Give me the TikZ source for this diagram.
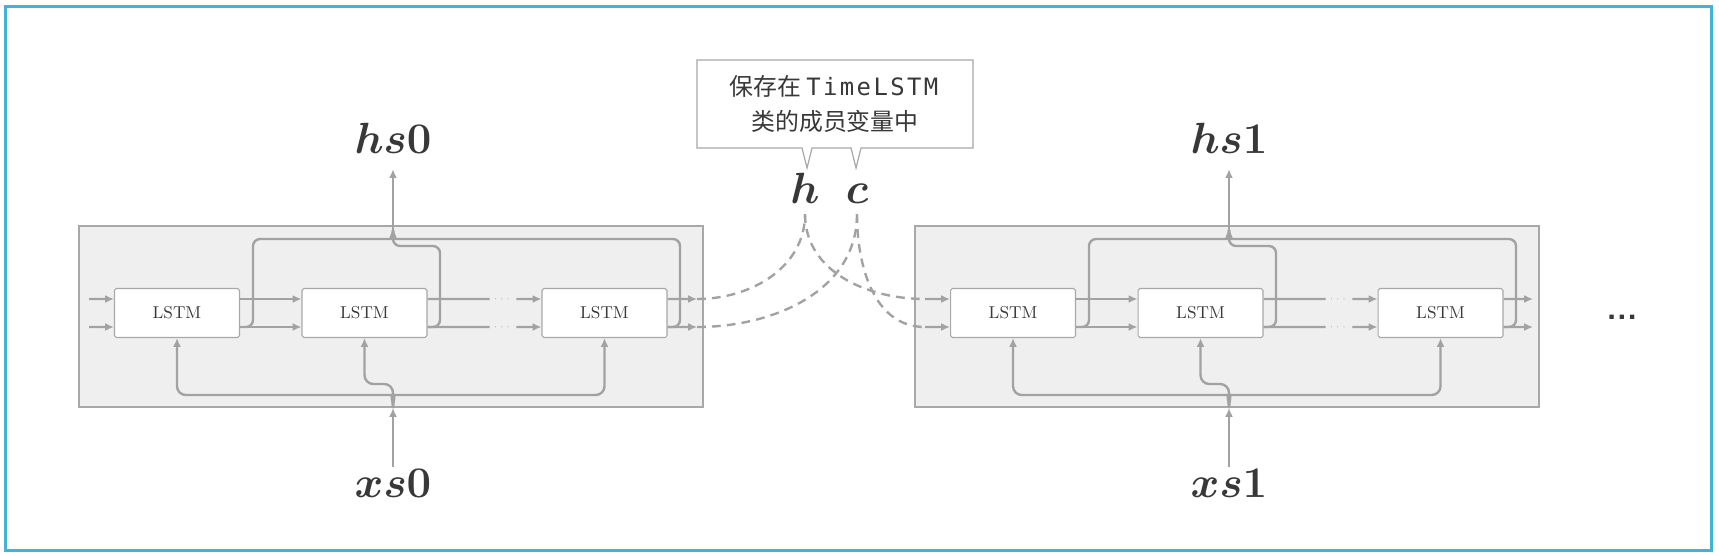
\documentclass[tikz,border=0pt]{standalone}
\usepackage{amsmath,amssymb}
\usepackage{fontspec}
\setmonofont[LetterSpace=10]{DejaVu Sans Mono}
\newfontfamily\cjk{Noto Sans CJK SC}
\usetikzlibrary{arrows.meta,positioning}
\definecolor{wiregray}{HTML}{A2A2A2}
\definecolor{rectgray}{HTML}{A8A8A8}
\definecolor{boxfill}{HTML}{EFEFEF}
\definecolor{framecyan}{HTML}{3FB4D4}
\definecolor{txt}{HTML}{383838}
\def\ro{0.28cm}

\begin{document}
\begin{tikzpicture}[x=0.02cm,y=-0.02cm,
  wire/.style={draw=wiregray,line width=1.35pt},
  arr/.style={wire,-{Latex[length=5pt,width=4.5pt]}},
  link/.style={wire,dash pattern=on 5pt off 3.5pt},
  cell/.style={draw=rectgray,fill=white,line width=0.6pt,rounded corners=1pt,minimum width=2.5cm,minimum height=0.98cm,inner sep=0pt,font=\fontsize{9.8}{10}\selectfont,text=txt},
  ell/.style={minimum width=0.52cm,inner sep=0pt,font=\tiny,text=wiregray},
  vec/.style={font=\fontsize{23}{24}\selectfont,text=txt,inner sep=1pt}]

\useasboundingbox (0,0) rectangle (1719,555);
\draw[framecyan,line width=1.7pt] (5.5,6.5) rectangle (1711,550);

\foreach \b/\dx/\n in {L/0/0,R/836/1}{
\begin{scope}[shift={(\dx,0)}]
\filldraw[fill=boxfill,draw=rectgray,line width=0.7pt] (79,226) rectangle (703,407);
\node[cell] (\b1) at (177,313) {LSTM};
\node[cell] (\b2) at (364.5,313) {LSTM};
\node[cell] (\b3) at (604.5,313) {LSTM};
\node[ell] (\b d1) at (503,299) {$\cdots$};
\node[ell] (\b d2) at (503,327) {$\cdots$};
\coordinate (\b i1) at (89,299);
\coordinate (\b i2) at (89,327);
\coordinate (\b o1) at (697,299);
\coordinate (\b o2) at (697,327);
\coordinate (\b t) at (393,230);
\coordinate (\b b) at (393,408);
\node[vec,anchor=base] (hs\n) at (393,153) {$\boldsymbol{hs\n}$};
\node[vec,anchor=base] (xs\n) at (393,497) {$\boldsymbol{xs\n}$};

\draw[arr] (\b i1) -- ([yshift=\ro]\b1.west);
\draw[arr] (\b i2) -- ([yshift=-\ro]\b1.west);
\draw[arr] ([yshift=\ro]\b1.east) -- ([yshift=\ro]\b2.west);
\draw[arr] ([yshift=-\ro]\b1.east) -- ([yshift=-\ro]\b2.west);
\draw[wire] ([yshift=\ro]\b2.east) -- (\b d1);
\draw[wire] ([yshift=-\ro]\b2.east) -- (\b d2);
\draw[arr] (\b d1) -- ([yshift=\ro]\b3.west);
\draw[arr] (\b d2) -- ([yshift=-\ro]\b3.west);
\draw[arr] ([yshift=\ro]\b3.east) -- (\b o1);
\draw[arr] ([yshift=-\ro]\b3.east) -- (\b o2);

\draw[wire,rounded corners=4pt] ([yshift=-\ro]\b1.east) -| (253,239) -- (384,239) to[out=0,in=-90] (\b t);
\draw[wire,rounded corners=4pt] ([yshift=-\ro]\b3.east) -| (680,239) -- (402,239) to[out=180,in=-90] (\b t);
\draw[wire,rounded corners=4pt] (\b t) |- (440,246) |- ([yshift=-\ro]\b2.east);
\draw[arr,shorten >=8pt] (\b t) -- (hs\n);

\draw[arr] (xs\n) -- (\b b);
\draw[arr,rounded corners=5pt] (\b b) to[out=90,in=0] (384,395) -| (\b1);
\draw[arr,rounded corners=5pt] (\b b) to[out=90,in=180] (402,395) -| (\b3);
\draw[arr,rounded corners=5pt] (\b b) |- (364.5,384) -- (\b2);
\end{scope}
}

\node[vec,anchor=base] (h) at (805,203) {$\boldsymbol{h}$};
\node[vec,anchor=base] (c) at (857,203) {$\boldsymbol{c}$};
\draw[link] (Lo1) to[out=0,in=-90] ([yshift=-0.18cm]h.south);
\draw[link] (Lo2) to[out=0,in=-90] ([yshift=-0.18cm]c.south);
\draw[link] ([yshift=-0.18cm]h.south) to[out=-90,in=180] (Ri1);
\draw[link] ([yshift=-0.18cm]c.south) to[out=-90,in=180] (Ri2);

\filldraw[fill=white,draw=rectgray,line width=0.7pt] (697,60) -- (973,60) -- (973,148) -- (861,148) -- (856,168) -- (851,148) -- (812,148) -- (807,168) -- (802,148) -- (697,148) -- cycle;
\node[align=center,font=\cjk\fontsize{13.6}{19.8}\selectfont,text=txt] (note) at (835,104) {保存在 \texttt{TimeLSTM}\\类的成员变量中};

\node[anchor=base,font=\sffamily\bfseries\fontsize{19}{20}\selectfont,text=txt] (more) at (1622,319) {...};
\end{tikzpicture}
\end{document}
